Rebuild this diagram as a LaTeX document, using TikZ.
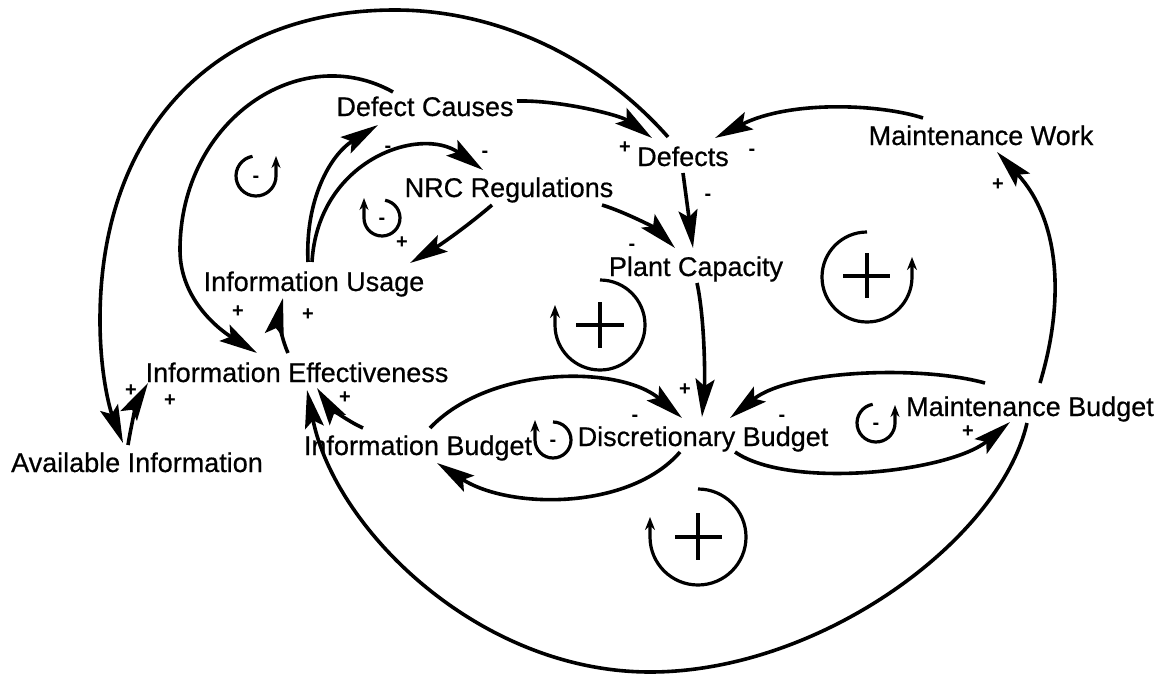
\documentclass[tikz,border=0pt]{standalone}
\usepackage{fontspec}
\setmainfont{Liberation Sans}
\newfontface\labelface{Liberation Sans}[FakeBold=0.6]
\usetikzlibrary{arrows.meta}
\begin{document}
\begin{tikzpicture}[x=1pt,y=-1pt,
  var/.style={inner sep=0pt, text height=20pt, text depth=6pt, anchor=base,
    font=\labelface\fontsize{27}{30}\selectfont},
  link/.style={line width=3.6pt, -{Stealth[length=38pt,width=19pt,inset=7pt]}},
  pol/.style={inner sep=0pt, text height=10pt, text depth=0pt,
    font=\fontsize{20}{20}\selectfont\bfseries},
  loopsm/.style={line width=3.2pt, -{Stealth[length=12pt,width=9pt]}},
  loopbig/.style={line width=3.2pt, -{Stealth[length=13pt,width=10pt]}},
  cross/.style={line width=3.2pt},
]
\useasboundingbox (0,0) rectangle (1166,677);

% variables
\node[var] (dc)  at (425,116)  {Defect Causes};
\node[var] (df)  at (683,166)  {Defects};
\node[var] (mw)  at (981,145)  {Maintenance Work};
\node[var] (nrc) at (509,197)  {NRC Regulations};
\node[var] (pc)  at (696,276)  {Plant Capacity};
\node[var] (iu)  at (314,291)  {Information Usage};
\node[var] (ie)  at (297,382)  {Information Effectiveness};
\node[var] (ai)  at (137,472)  {Available Information};
\node[var] (ib)  at (418,455)  {Information Budget};
\node[var] (db)  at (703,446)  {Discretionary Budget};
\node[var] (mb)  at (1030,416) {Maintenance Budget};

% causal links
\draw[link] ([shift={(-15,-29)}]df.base) .. controls (600,60) and (500,10) .. (395,10)
  .. controls (215,10) and (100,130) .. (100,320)
  .. controls (100,380) and (112,415) .. ([shift={(-14,-29)}]ai.base);
\draw[link] ([shift={(-32,-24)}]dc.base) .. controls (300,40) and (180,120) .. (180,250)
  .. controls (180,300) and (220,330) .. ([shift={(-40,-29)}]ie.base);
\draw[link] ([shift={(-6,-29)}]iu.base) .. controls (305,200) and (330,155) .. ([shift={(-47,9)}]dc.base);
\draw[link] ([shift={(-2,-29)}]iu.base) .. controls (318,160) and (420,125) .. ([shift={(-26,-27)}]nrc.base);
\draw[link] ([shift={(-17,8)}]nrc.base) .. controls (465,228) and (440,245) .. ([shift={(96,-28)}]iu.base);
\draw[link] ([shift={(92,-15)}]dc.base) .. controls (560,100) and (620,115) .. ([shift={(-31,-28)}]df.base);
\draw[link] ([shift={(-58,-27)}]mw.base) .. controls (880,104) and (790,100) .. ([shift={(32,-28)}]df.base);
\draw[link] ([shift={(0,7)}]df.base) -- ([shift={(-3,-28)}]pc.base);
\draw[link] ([shift={(93,8)}]nrc.base) .. controls (625,212) and (655,228) .. ([shift={(-21,-28)}]pc.base);
\draw[link] ([shift={(1,7)}]pc.base) .. controls (705,320) and (705,380) .. ([shift={(-1,-29)}]db.base);
\draw[link] ([shift={(12,-27)}]ib.base) .. controls (490,365) and (620,365) .. ([shift={(-21,-28)}]db.base);
\draw[link] ([shift={(-23,6)}]db.base) .. controls (630,510) and (510,510) .. ([shift={(19,8)}]ib.base);
\draw[link] ([shift={(-45,-33)}]mb.base) .. controls (920,365) and (790,370) .. ([shift={(27,-28)}]db.base);
\draw[link] ([shift={(32,6)}]db.base) .. controls (790,490) and (950,472) .. ([shift={(-20,6)}]mb.base);
\draw[link] ([shift={(10,-33)}]mb.base) .. controls (1065,300) and (1060,220) .. ([shift={(16,7)}]mw.base);
\draw[link] ([shift={(-3,7)}]mb.base) .. controls (1000,540) and (820,672) .. (650,672)
  .. controls (480,672) and (335,530) .. ([shift={(10,8)}]ie.base);
\draw[link] ([shift={(-55,-27)}]ib.base) .. controls (345,420) and (328,405) .. ([shift={(20,6)}]ie.base);
\draw[link] ([shift={(-9,-29)}]ie.base) .. controls (280,335) and (279,315) .. ([shift={(-31,7)}]iu.base);
\draw[link] ([shift={(-9,-27)}]ai.base) .. controls (132,420) and (138,400) .. ([shift={(-149,1)}]ie.base);

% link polarities
\node[pol] (s1)  at (625,148) {+};
\node[pol] (s2)  at (752,150) {-};
\node[pol] (s3)  at (708,195) {-};
\node[pol] (s4)  at (632,245) {-};
\node[pol] (s5)  at (388,147) {-};
\node[pol] (s6)  at (485,152) {-};
\node[pol] (s7)  at (402,243) {+};
\node[pol] (s8)  at (238,312) {+};
\node[pol] (s9)  at (308,315) {+};
\node[pol] (s10) at (345,398) {+};
\node[pol] (s11) at (170,401) {+};
\node[pol] (s12) at (131,391) {+};
\node[pol] (s13) at (685,390) {+};
\node[pol] (s14) at (635,416) {-};
\node[pol] (s15) at (782,416) {-};
\node[pol] (s16) at (968,432) {+};
\node[pol] (s17) at (998,185) {+};

% balancing loop markers
\draw[loopsm] (256,176) ++(-100:20) arc[start angle=-100, end angle=-360, radius=20] -- ++(0,-20);
\node[pol] (b1) at (256,177) {-};
\draw[loopsm] (382,218) ++(-80:18) arc[start angle=-80, end angle=180, radius=18] -- ++(0,-20);
\node[pol] (b2) at (382,219) {-};
\draw[loopsm] (553,440) ++(-90:18) arc[start angle=-90, end angle=180, radius=18] -- ++(0,-20);
\node[pol] (b3) at (553,441) {-};
\draw[loopsm] (876,423) ++(-100:19) arc[start angle=-100, end angle=-360, radius=19] -- ++(0,-18);
\node[pol] (b4) at (876,424) {-};

% reinforcing loop markers
\draw[loopbig] (600,325) ++(-90:45) arc[start angle=-90, end angle=180, radius=45] -- ++(0,-20);
\draw[cross] (576,325) -- (624,325) (600,302) -- (600,348);
\draw[loopbig] (867,277) ++(-90:45) arc[start angle=-90, end angle=-360, radius=45] -- ++(0,-20);
\draw[cross] (843,276) -- (890,276) (867,253) -- (867,298);
\draw[loopbig] (698,537) ++(-90:48) arc[start angle=-90, end angle=180, radius=48] -- ++(0,-20);
\draw[cross] (675,537) -- (722,537) (698,513) -- (698,560);
\end{tikzpicture}
\end{document}
